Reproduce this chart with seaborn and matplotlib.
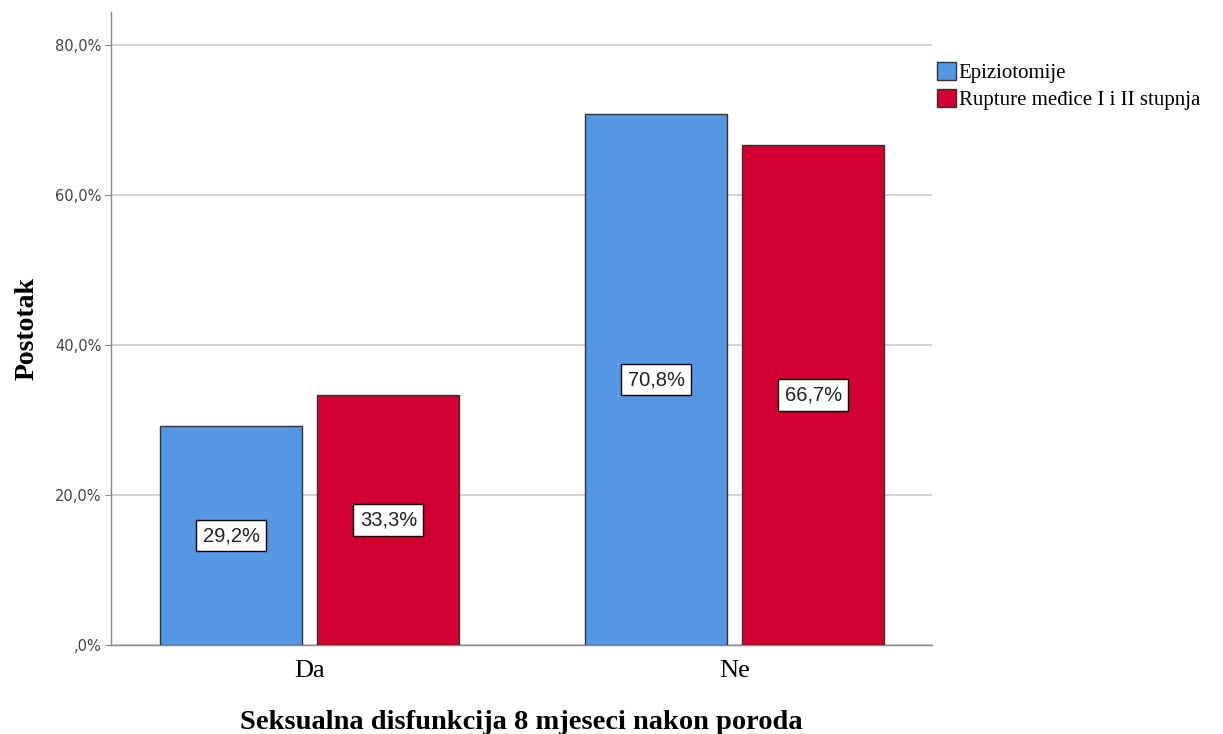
import matplotlib
matplotlib.use("Agg")
import matplotlib.pyplot as plt
import seaborn as sns
import pandas as pd

# Podaci: postotak po kategoriji i skupini
kategorije = ['Da', 'Ne']
skupine = ['Epiziotomije', 'Rupture međice I i II stupnja']
epiziotomije = [29.2, 70.8]
rupture = [33.3, 66.7]
boje = ['#5597E3', '#D20030']

df = pd.DataFrame({
    'kategorija': kategorije * 2,
    'skupina': [skupine[0]] * 2 + [skupine[1]] * 2,
    'postotak': epiziotomije + rupture,
})

sns.set_style('white')
plt.rcParams['font.family'] = ['Liberation Serif', 'DejaVu Serif']
plt.rcParams['text.color'] = 'black'

fig = plt.figure(figsize=(12.23, 7.34), dpi=100)
ax = fig.add_axes([111 / 1223, 89 / 734, 821 / 1223, 633 / 734])

sns.barplot(data=df, x='kategorija', y='postotak', hue='skupina',
            order=kategorije, hue_order=skupine, palette=boje,
            width=0.739, gap=0.0955, edgecolor='#333333', linewidth=1,
            saturation=1, errorbar=None, ax=ax, zorder=3)

# Oznake vrijednosti u sredini stupca
for cont in ax.containers:
    for bar in cont:
        h = bar.get_height()
        ax.text(bar.get_x() + bar.get_width() / 2, h / 2,
                f'{h:.1f}%'.replace('.', ','), ha='center', va='center',
                fontsize=14.5, family='Liberation Sans', color='#222222', zorder=5,
                bbox=dict(boxstyle='square,pad=0.32', fc='white', ec='black', lw=1))

ax.set_ylim(0, 84.4)
ax.set_xlim(-0.468, 1.464)
ax.set_yticks([0, 20, 40, 60, 80])
ax.set_yticklabels([',0%', '20,0%', '40,0%', '60,0%', '80,0%'],
                   fontsize=10.5, color='#444444', family='DejaVu Sans')
ax.set_xticks([0, 1])
ax.set_xticklabels(kategorije, fontsize=19, color='black')
ax.tick_params(axis='y', length=4, color='#888888', left=True, pad=3)
ax.tick_params(axis='x', length=0, pad=11)
ax.yaxis.grid(True, color='#cccccc', linewidth=1.2, zorder=0)
ax.set_axisbelow(True)

for s in ['top', 'right']:
    ax.spines[s].set_visible(False)
for s in ['left', 'bottom']:
    ax.spines[s].set_color('#888888')
    ax.spines[s].set_linewidth(1)

ax.set_ylabel('Postotak', fontsize=20, fontweight='bold', labelpad=11, color='black')
ax.set_xlabel('Seksualna disfunkcija 8 mjeseci nakon poroda', fontsize=20.5,
              fontweight='bold', labelpad=20, color='black')

ax.legend(loc='upper left', bbox_to_anchor=(1.003, 0.925), frameon=False,
          fontsize=15, handlelength=0.95, handleheight=0.95, handletextpad=0.12,
          labelspacing=0.28, borderaxespad=0, borderpad=0.1)

fig.savefig('out.png', dpi=100)
